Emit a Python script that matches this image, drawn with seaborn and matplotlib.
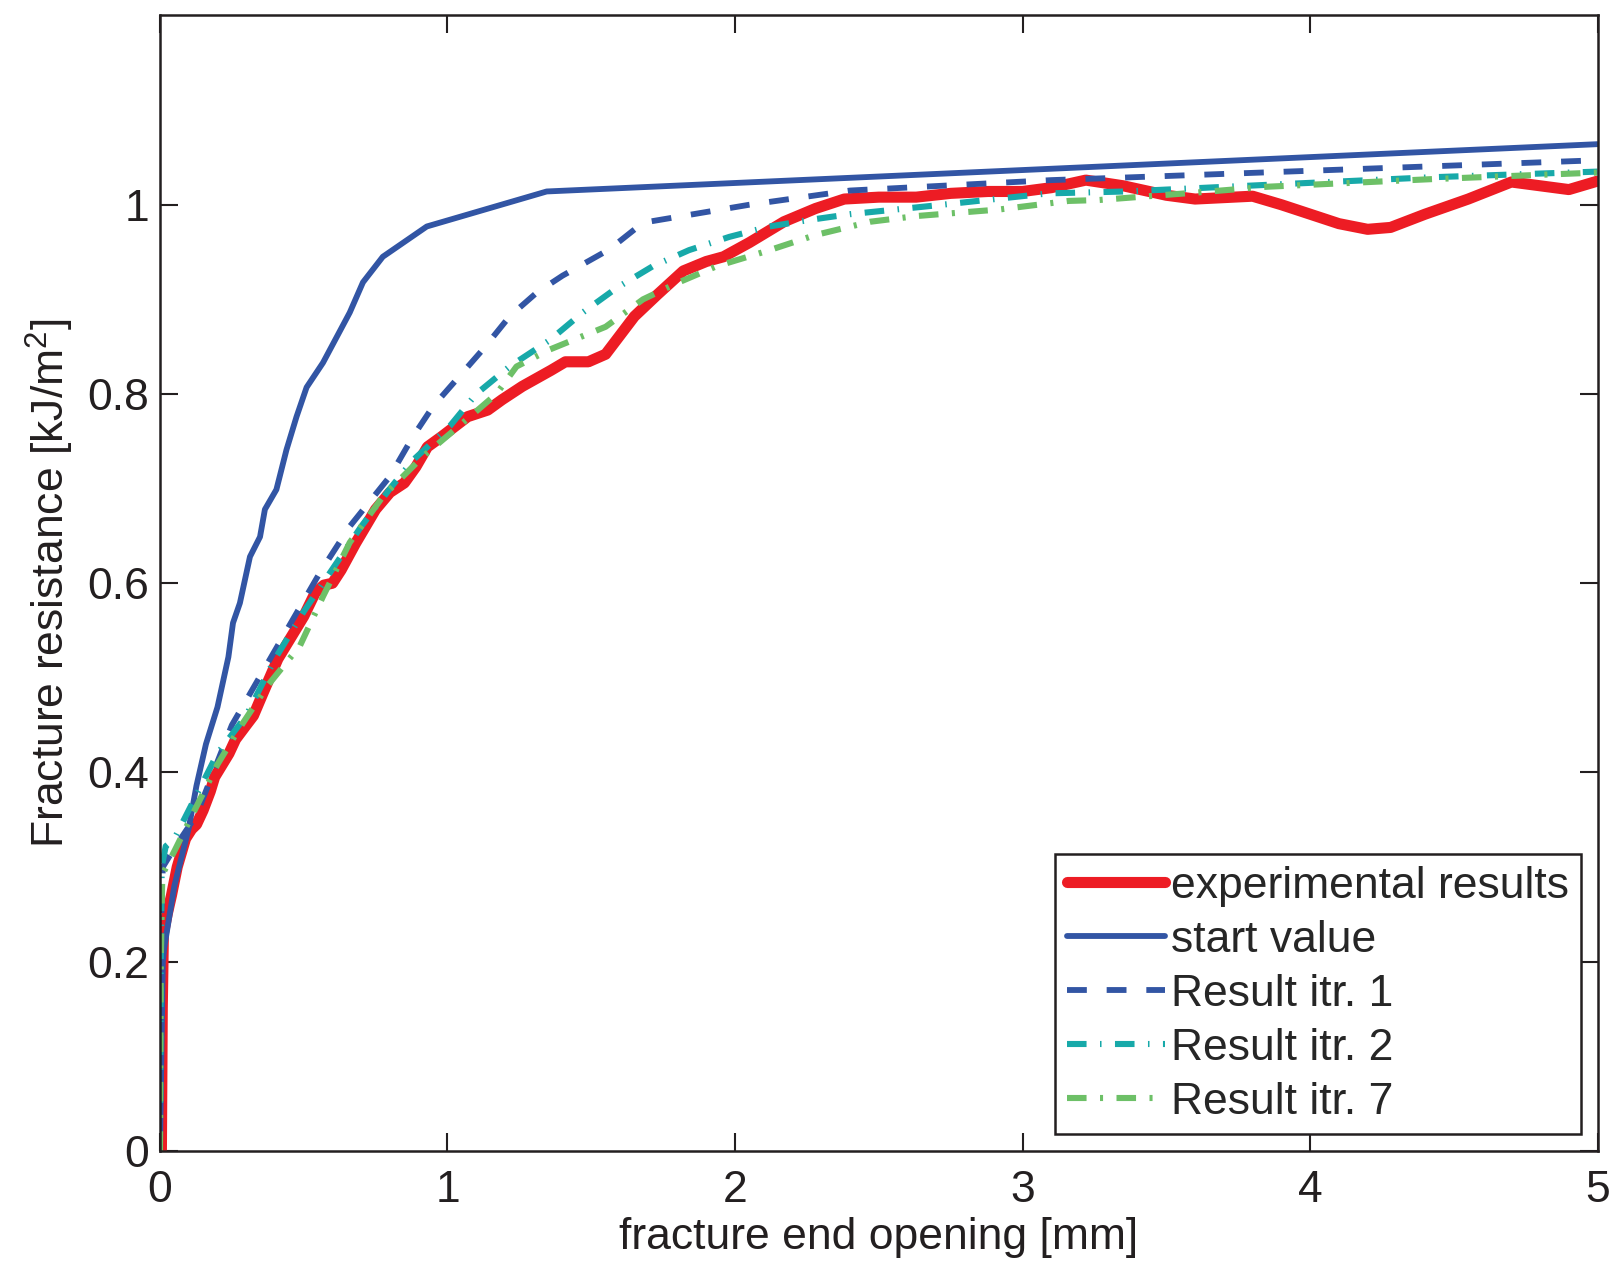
from matplotlib import pyplot as plt
import pandas as pd
import numpy as np
import seaborn as sns

# measured curves (x in mm, y in kJ/m^2)
exp_x = [0.005, 0.008, 0.012, 0.025, 0.04, 0.06, 0.089, 0.11, 0.127, 0.15, 0.175, 0.19, 0.21, 0.24,
         0.263, 0.3, 0.325, 0.36, 0.41, 0.45, 0.5, 0.54, 0.57, 0.6, 0.63, 0.68, 0.75, 0.8, 0.85, 0.89,
         0.93, 0.98, 1.07, 1.14, 1.19, 1.26, 1.36, 1.41, 1.49, 1.55, 1.6, 1.65, 1.73, 1.82, 1.9, 1.96,
         2.05, 2.17, 2.28, 2.38, 2.5, 2.63, 2.75, 2.88, 3.0, 3.1, 3.22, 3.35, 3.5, 3.6, 3.8, 3.9, 4.0,
         4.1, 4.2, 4.28, 4.4, 4.55, 4.7, 4.8, 4.9, 5.0]
exp_y = [0.0, 0.15, 0.23, 0.25, 0.27, 0.30, 0.33, 0.34, 0.345, 0.36, 0.38, 0.395, 0.405, 0.42,
         0.435, 0.45, 0.46, 0.485, 0.52, 0.54, 0.565, 0.59, 0.598, 0.6, 0.614, 0.642, 0.678, 0.696, 0.706, 0.723,
         0.744, 0.755, 0.776, 0.783, 0.794, 0.808, 0.825, 0.834, 0.834, 0.842, 0.862, 0.882, 0.905, 0.93, 0.94, 0.945,
         0.96, 0.982, 0.996, 1.006, 1.008, 1.008, 1.012, 1.014, 1.014, 1.018, 1.026, 1.02, 1.01, 1.006, 1.009, 1.0, 0.99,
         0.98, 0.974, 0.976, 0.99, 1.006, 1.024, 1.02, 1.016, 1.025]

start_x = [0.0, 0.005, 0.01, 0.015, 0.05, 0.1, 0.127, 0.16, 0.2, 0.238, 0.254, 0.278, 0.313, 0.348,
           0.365, 0.405, 0.44, 0.475, 0.51, 0.567, 0.66, 0.706, 0.775, 0.928, 1.345, 5.0]
start_y = [0.0, 0.1, 0.2, 0.215, 0.28, 0.341, 0.386, 0.43, 0.469, 0.522, 0.558, 0.579, 0.628, 0.649,
           0.678, 0.699, 0.741, 0.776, 0.807, 0.833, 0.886, 0.918, 0.945, 0.977, 1.014, 1.064]

itr1_x = [0.0, 0.005, 0.01, 0.05, 0.127, 0.25, 0.44, 0.556, 0.66, 0.8, 0.88, 0.95, 1.123, 1.216,
          1.31, 1.4, 1.564, 1.68, 2.05, 2.4, 3.1, 3.38, 5.0]
itr1_y = [0.0, 0.25, 0.30, 0.32, 0.355, 0.45, 0.55, 0.611, 0.66, 0.713, 0.755, 0.787, 0.847, 0.882,
          0.907, 0.925, 0.953, 0.981, 1.0, 1.015, 1.026, 1.029, 1.047]

itr2_x = [0.0, 0.003, 0.006, 0.02, 0.05, 0.1, 0.2, 0.3, 0.4, 0.5, 0.6, 0.7, 0.8, 0.88, 1.008, 1.1,
          1.216, 1.356, 1.47, 1.588, 1.714, 1.84, 1.98, 2.12, 2.26, 2.4, 2.69, 3.09, 3.36, 3.85, 4.42, 5.0]
itr2_y = [0.0, 0.2, 0.30, 0.322, 0.33, 0.36, 0.42, 0.46, 0.52, 0.57, 0.615, 0.66, 0.70, 0.73, 0.766, 0.8,
          0.829, 0.857, 0.886, 0.912, 0.935, 0.952, 0.966, 0.977, 0.984, 0.99, 0.999, 1.012, 1.014, 1.021, 1.029, 1.035]

itr7_x = [0.0, 0.003, 0.008, 0.015, 0.052, 0.127, 0.201, 0.275, 0.375, 0.487, 0.567, 0.66, 0.776, 0.915,
          1.04, 1.17, 1.24, 1.356, 1.55, 1.68, 1.797, 1.936, 2.11, 2.28, 2.47, 2.63, 2.92, 3.16, 3.267,
          3.61, 3.85, 4.42, 5.0]
itr7_y = [0.0, 0.2, 0.29, 0.296, 0.318, 0.364, 0.409, 0.446, 0.492, 0.534, 0.586, 0.643, 0.692, 0.734,
          0.766, 0.80, 0.829, 0.847, 0.871, 0.90, 0.917, 0.935, 0.951, 0.968, 0.982, 0.988, 0.995, 1.004, 1.005,
          1.013, 1.019, 1.027, 1.034]

x_ticks = [0, 1, 2, 3, 4, 5]
y_ticks = [0, 0.2, 0.4, 0.6, 0.8, 1.0]
y_tick_labels = ['0', '0.2', '0.4', '0.6', '0.8', '1']

if __name__ == "__main__":
    sns.set_theme(style='ticks')
    plt.rcParams['font.family'] = ['Liberation Sans', 'DejaVu Sans']
    plt.rcParams['mathtext.fontset'] = 'custom'
    plt.rcParams['mathtext.rm'] = 'Liberation Sans'
    plt.rcParams['mathtext.it'] = 'Liberation Sans'

    fig = plt.figure(figsize=(16.19, 12.68), dpi=100)
    ax = fig.add_axes([0.0988, 0.0923, 0.888, 0.8955])

    red = '#ed1c24'
    blue = '#3255a4'
    teal = '#17a9a9'
    green = '#6dc067'

    sns.lineplot(x=exp_x, y=exp_y, sort=False, color=red, linewidth=8,
                 label='experimental results', ax=ax)
    sns.lineplot(x=start_x, y=start_y, sort=False, color=blue, linewidth=4.2,
                 label='start value', ax=ax)
    sns.lineplot(x=itr1_x, y=itr1_y, sort=False, color=blue, linewidth=4.2,
                 linestyle=(0, (3.4, 3.4)), dash_capstyle='butt',
                 label='Result itr. 1', ax=ax)
    sns.lineplot(x=itr2_x, y=itr2_y, sort=False, color=teal, linewidth=4.4,
                 linestyle=(0, (3.2, 2.2, 0.25, 2.2)), dash_capstyle='butt',
                 label='Result itr. 2', ax=ax)
    sns.lineplot(x=itr7_x, y=itr7_y, sort=False, color=green, linewidth=4.4,
                 linestyle=(0, (3.2, 2.2, 0.5, 2.2)), dash_capstyle='butt',
                 label='Result itr. 7', ax=ax)

    ax.set_xlim(0, 5)
    ax.set_ylim(0, 1.2)
    ax.set_xticks(x_ticks)
    ax.set_xticklabels([str(t) for t in x_ticks])
    ax.set_yticks(y_ticks)
    ax.set_yticklabels(y_tick_labels)
    ax.tick_params(direction='in', length=13, width=1.5, labelsize=32,
                   top=True, right=True, colors='#231f20')
    ax.tick_params(axis='x', pad=14)
    ax.tick_params(axis='y', pad=8)
    for s in ax.spines.values():
        s.set_visible(True)
        s.set_linewidth(1.8)
        s.set_color('#231f20')

    ax.set_xlabel('fracture end opening [mm]', fontsize=32, labelpad=4, color='#231f20')
    ax.set_ylabel('Fracture resistance [kJ/m$^2$]', fontsize=32, labelpad=8, color='#231f20')

    leg = ax.legend(loc='lower right', fontsize=32, frameon=True, fancybox=False,
                    edgecolor='#231f20', framealpha=1, handlelength=2.2,
                    handletextpad=0.15, labelspacing=0.29, borderpad=0.26,
                    borderaxespad=0.38)
    leg.get_frame().set_linewidth(1.8)

    plt.savefig('out.png', dpi=100)
